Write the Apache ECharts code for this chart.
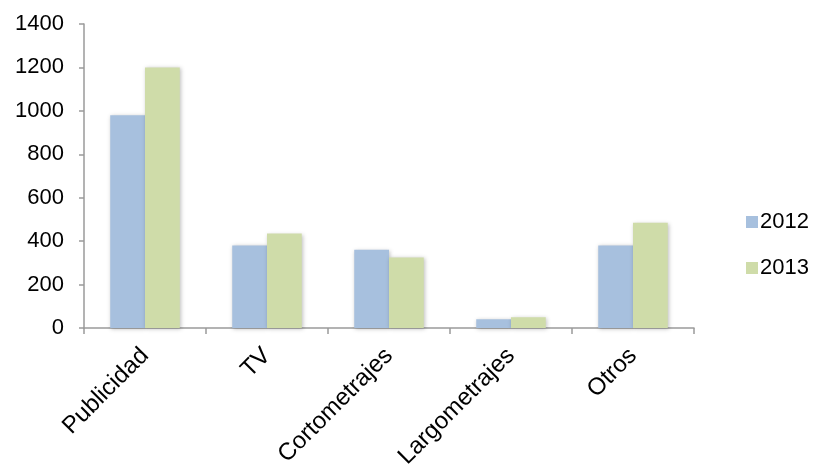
<!DOCTYPE html>
<html>
<head>
<meta charset="utf-8">
<script src="https://cdn.jsdelivr.net/npm/echarts@6/dist/echarts.min.js"></script>
<style>
  html, body { margin: 0; padding: 0; background: #ffffff; }
  #chart { width: 816px; height: 464px; }
</style>
</head>
<body>
<div id="chart"></div>
<script>
// Categories and yearly values
const categories = ['Publicidad', 'TV', 'Cortometrajes', 'Largometrajes', 'Otros'];
const values2012 = [980, 380, 360, 40, 380];
const values2013 = [1200, 435, 325, 50, 485];
const seriesNames = ['2012', '2013'];
const yTicks = { min: 0, max: 1400, interval: 200 };

const font = 'Liberation Sans, Arial, sans-serif';
const barShadow = { shadowColor: 'rgba(0,0,0,0.25)', shadowBlur: 4, shadowOffsetX: 1, shadowOffsetY: 1 };

const chart = echarts.init(document.getElementById('chart'));
chart.setOption({
  animation: false,
  textStyle: { fontFamily: font },
  grid: { left: 84, right: 122, top: 24, bottom: 136, containLabel: false, outerBoundsMode: 'none' },
  legend: {
    orient: 'vertical',
    left: 741,
    top: 206,
    itemWidth: 12,
    itemHeight: 12,
    itemGap: 24,
    icon: 'rect',
    textStyle: { fontSize: 22, color: '#000', fontFamily: font, padding: [0, 0, 0, -3] },
    data: seriesNames
  },
  xAxis: {
    type: 'category',
    data: categories,
    axisLine: { lineStyle: { color: '#9a9a9a', width: 1.5 } },
    axisTick: { show: true, length: 6, alignWithLabel: false, lineStyle: { color: '#9a9a9a', width: 1.5 } },
    axisLabel: { rotate: 45, fontSize: 24, color: '#000', margin: 24, fontFamily: font }
  },
  yAxis: {
    type: 'value',
    min: yTicks.min,
    max: yTicks.max,
    interval: yTicks.interval,
    splitLine: { show: false },
    axisLine: { show: true, lineStyle: { color: '#9a9a9a', width: 1.5 } },
    axisTick: { show: true, inside: false, length: 5, lineStyle: { color: '#9a9a9a', width: 1.5 } },
    axisLabel: { fontSize: 22, color: '#000', margin: 20, fontFamily: font, formatter: v => String(v) }
  },
  series: [
    {
      name: seriesNames[0],
      type: 'bar',
      data: values2012,
      barGap: '0%',
      barCategoryGap: '43%',
      itemStyle: Object.assign({ color: '#a7c0de' }, barShadow)
    },
    {
      name: seriesNames[1],
      type: 'bar',
      data: values2013,
      barGap: '0%',
      barCategoryGap: '43%',
      itemStyle: Object.assign({ color: '#cfdca9' }, barShadow)
    }
  ]
});
</script>
</body>
</html>
